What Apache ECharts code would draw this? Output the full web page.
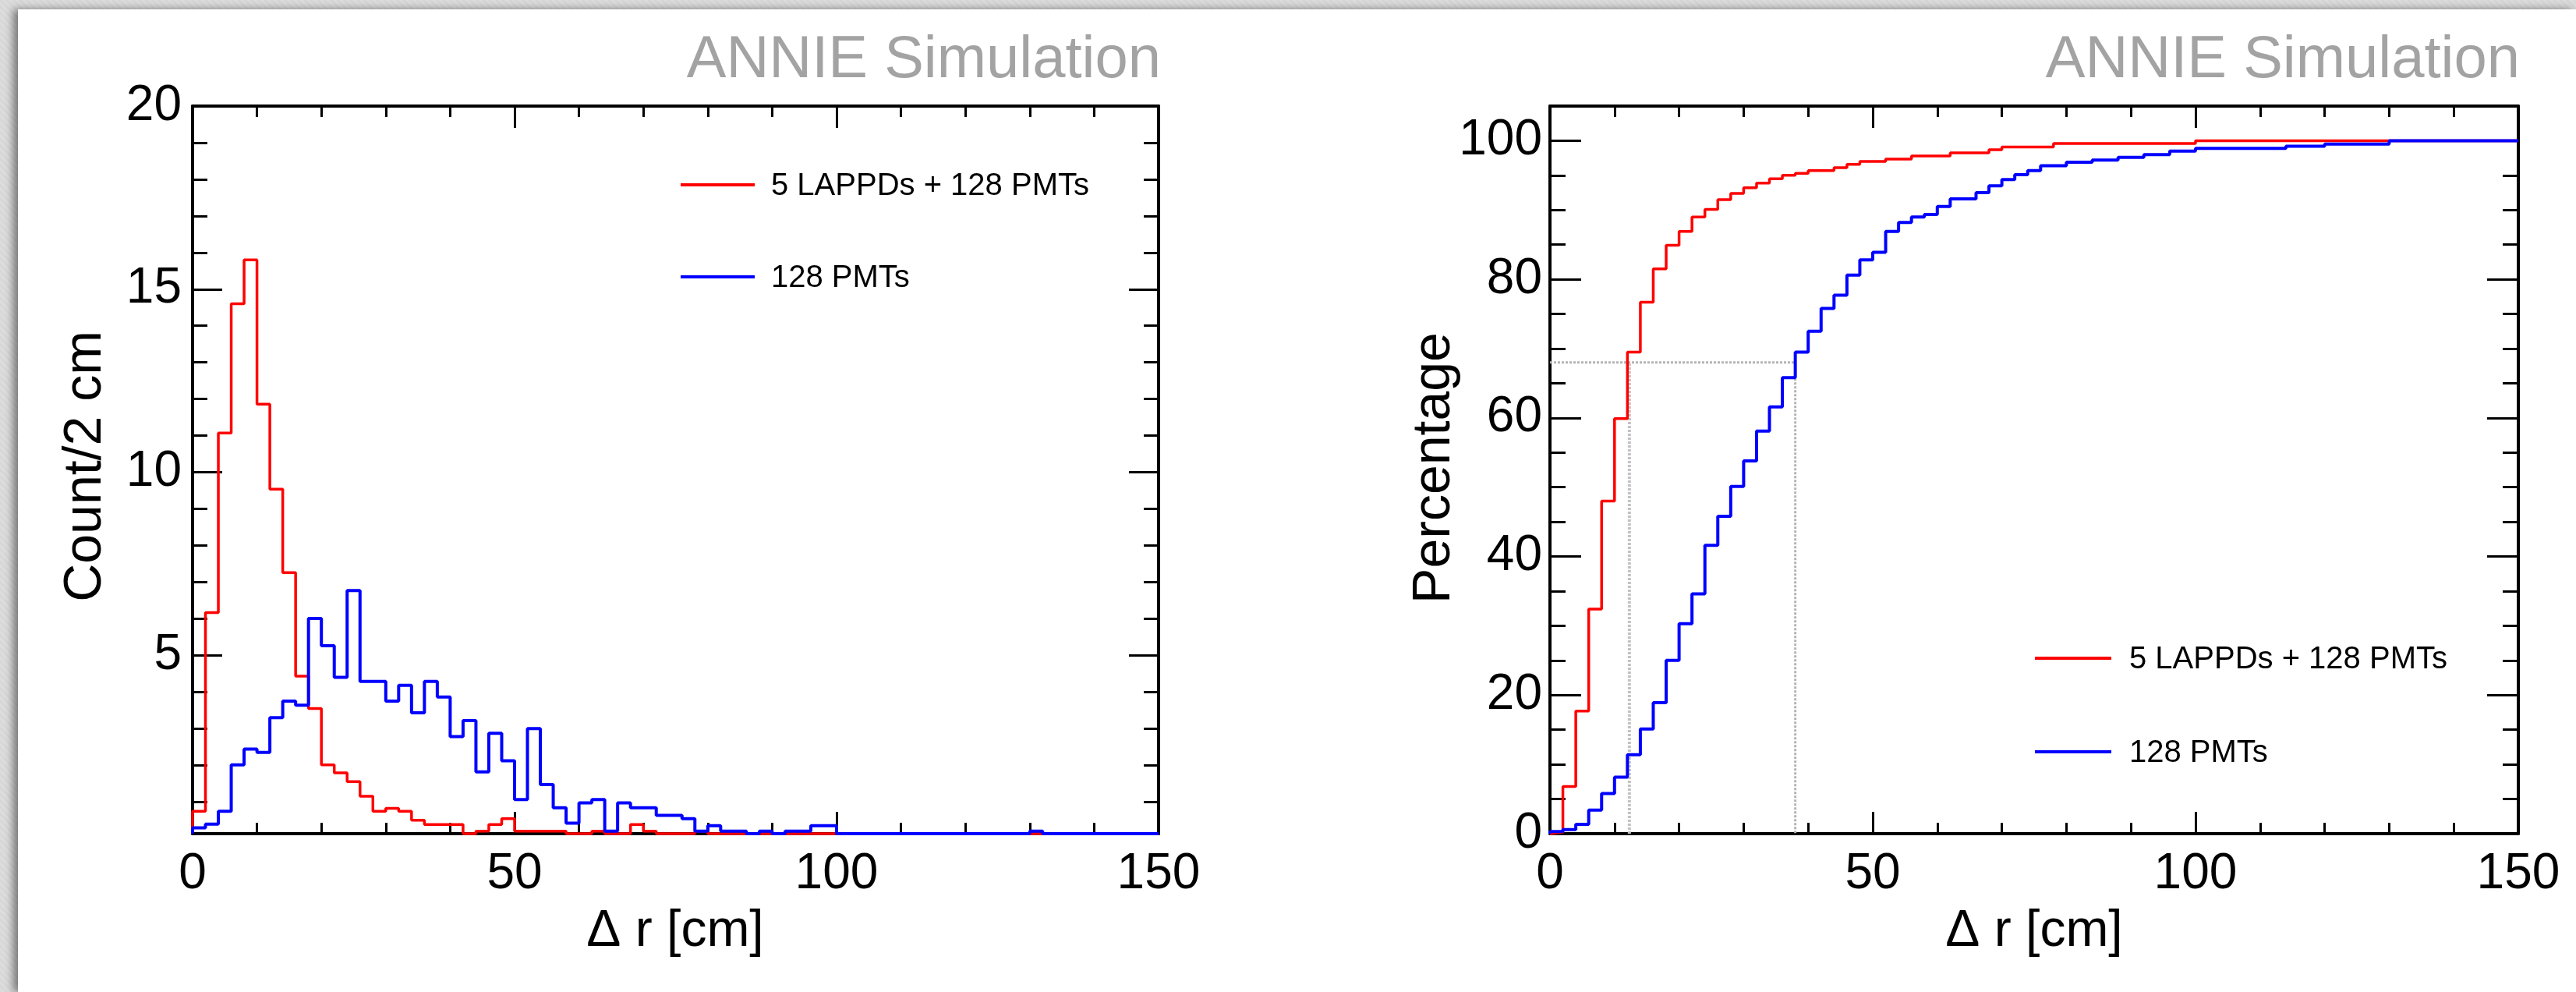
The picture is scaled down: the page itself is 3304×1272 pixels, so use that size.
<!DOCTYPE html>
<html>
<head>
<meta charset="utf-8">
<title>ANNIE Simulation – vertex resolution</title>
<script src="https://cdn.jsdelivr.net/npm/echarts@6/dist/echarts.min.js"></script>
<style>
  html, body { margin: 0; padding: 0; width: 3304px; height: 1272px; overflow: hidden;
    background: repeating-linear-gradient(45deg, #d8d8d8 0px, #dedede 3px, #d4d4d4 6px); }
  #panel { position: absolute; left: 23px; top: 12px; width: 3281px; height: 1260px; background: #ffffff;
    box-shadow: -6px 0 10px rgba(0,0,0,0.45); }
  #chart { position: absolute; left: 0; top: 0; width: 3304px; height: 1272px; }
</style>
</head>
<body>
<div id="panel"></div>
<div id="chart"></div>
<script>
// ---- binning (2 cm bins from 0 to 150 cm) ----
const BIN_WIDTH = 2;
const DR_MIN = 0, DR_MAX = 150;
const drTicks = [0, 50, 100, 150];

// ---- Δr distribution, Count / 2 cm ----
const countLappd = [
  0.74, 6.17, 11.07, 14.6, 15.8, 11.86, 9.54, 7.26, 4.43, 3.55,
  2.01, 1.79, 1.55, 1.15, 0.74, 0.82, 0.74, 0.5, 0.38, 0.38,
  0.38, 0, 0.2, 0.38, 0.54, 0.2, 0.2, 0.2, 0.2, 0,
  0, 0.2, 0, 0, 0.38, 0.2, 0, 0, 0, 0.2,
  0, 0, 0, 0, 0, 0, 0, 0, 0, 0,
  0, 0, 0, 0, 0, 0, 0, 0, 0, 0,
  0, 0, 0, 0, 0, 0, 0, 0, 0, 0,
  0, 0, 0, 0, 0
];
const countPmt = [
  0.29, 0.39, 0.74, 2.01, 2.44, 2.35, 3.30, 3.75, 3.64, 6.01,
  5.26, 4.40, 6.77, 4.29, 4.29, 3.75, 4.18, 3.43, 4.29, 3.86,
  2.78, 3.22, 1.82, 2.87, 2.12, 1.06, 3.0, 1.47, 0.84, 0.42,
  0.97, 1.06, 0.2, 0.97, 0.84, 0.84, 0.63, 0.63, 0.54, 0.2,
  0.35, 0.2, 0.2, 0, 0.2, 0, 0.2, 0.2, 0.35, 0.35,
  0, 0, 0, 0, 0, 0, 0, 0, 0, 0,
  0, 0, 0, 0, 0, 0.2, 0, 0, 0, 0,
  0, 0, 0, 0, 0
];
const countMin = 0.13, countMax = 20;
const countTicks = [5, 10, 15, 20];

// ---- cumulative fraction, Percentage ----
const cumLappd = [
  0.2, 6.8, 17.7, 32.4, 48.0, 59.9, 69.5, 76.7, 81.5, 84.9,
  86.9, 89.0, 90.1, 91.5, 92.4, 93.2, 93.9, 94.5, 95.0, 95.3,
  95.7, 95.7, 96.1, 96.6, 97.0, 97.0, 97.35, 97.35, 97.8, 97.8,
  97.8, 98.24, 98.24, 98.24, 98.7, 99.1, 99.1, 99.1, 99.1, 99.6,
  99.6, 99.6, 99.6, 99.6, 99.6, 99.6, 99.6, 99.6, 99.6, 99.6,
  100, 100, 100, 100, 100, 100, 100, 100, 100, 100,
  100, 100, 100, 100, 100, 100, 100, 100, 100, 100,
  100, 100, 100, 100, 100
];
const cumPmt = [
  0.3, 0.6, 1.35, 3.4, 5.8, 8.17, 11.4, 15.1, 18.9, 25.0,
  30.3, 34.6, 41.6, 45.8, 50.1, 53.8, 58.1, 61.6, 65.8, 69.5,
  72.5, 75.8, 77.7, 80.6, 82.8, 83.9, 86.9, 88.2, 89.0, 89.35,
  90.5, 91.6, 91.6, 92.5, 93.5, 94.4, 95.1, 95.7, 96.4, 96.4,
  96.9, 96.9, 97.2, 97.2, 97.6, 97.6, 98.0, 98.0, 98.5, 98.5,
  98.9, 98.9, 98.9, 98.9, 98.9, 98.9, 98.9, 99.2, 99.2, 99.2,
  99.5, 99.5, 99.5, 99.5, 99.5, 100, 100, 100, 100, 100,
  100, 100, 100, 100, 100
];
const pctMin = 0, pctMax = 105;
const pctTicks = [0, 20, 40, 60, 80, 100];

// 68 % containment markers
const guideLevel = 68;
const guideRadius = [12.3, 38];

const seriesNames = ['5 LAPPDs + 128 PMTs', '128 PMTs'];
const panelTitle = 'ANNIE Simulation';

// ---- helpers ----
const FONT = '"Liberation Sans", Arial, Helvetica, sans-serif';
const RED = '#ff0000', BLUE = '#0000ff';

// outline of a histogram: rise from the floor at the first edge, then one step per bin
function histPath(values, floor) {
  const pts = [[DR_MIN, floor]];
  values.forEach((v, i) => pts.push([DR_MIN + i * BIN_WIDTH, Math.max(v, floor)]));
  pts.push([DR_MIN + values.length * BIN_WIDTH, Math.max(values[values.length - 1], floor)]);
  return pts;
}
function minorBetween(lo, hi, step, majors) {
  const out = [];
  for (let v = lo; v <= hi + 1e-9; v += step) {
    const r = Math.round(v * 1000) / 1000;
    if (!majors.includes(r)) out.push(r);
  }
  return out;
}

const blackLine = { color: '#000', width: 4 };
const tickLine = { color: '#000', width: 3 };

// frame rectangles of the two pads
const padRects = [
  { left: 247, top: 136, width: 1239, height: 933 },
  { left: 1988, top: 136, width: 1242, height: 933 }
];

function xAxisPair(grid) {
  const base = {
    type: 'value', gridIndex: grid, min: DR_MIN, max: DR_MAX, interval: 50,
    splitLine: { show: false }, minorSplitLine: { show: false },
    axisLine: { show: true, onZero: false, lineStyle: blackLine },
    axisTick: { show: true, inside: true, length: 28, lineStyle: tickLine },
    minorTick: { show: true, splitNumber: 5, length: 14, lineStyle: tickLine }
  };
  return [
    Object.assign({}, base, { position: 'bottom',
      axisLabel: { show: true, margin: 20, fontSize: 64, color: '#000', fontFamily: FONT,
        customValues: drTicks } }),
    Object.assign({}, base, { position: 'top', axisLabel: { show: false } })
  ];
}
// hidden x axis for the overlay grids that only carry minor y ticks
function hiddenX(grid) {
  return { type: 'value', gridIndex: grid, min: DR_MIN, max: DR_MAX, show: false };
}
function yMajorPair(grid, min, max, majors, len, labelMargin) {
  const common = { type: 'value', gridIndex: grid, min: min, max: max, splitLine: { show: false },
    axisLine: { show: true, onZero: false, lineStyle: blackLine },
    axisTick: { show: true, inside: true, length: len, lineStyle: tickLine, customValues: majors } };
  return [
    Object.assign({}, common, { position: 'left',
      axisLabel: { show: true, margin: labelMargin, fontSize: 64, color: '#000', fontFamily: FONT, customValues: majors } }),
    Object.assign({}, common, { position: 'right', axisLabel: { show: false } })
  ];
}
function yMinorPair(grid, min, max, minors, len) {
  const common = { type: 'value', gridIndex: grid, min: min, max: max, splitLine: { show: false },
    axisLine: { show: false }, axisLabel: { show: false },
    axisTick: { show: true, inside: true, length: len, lineStyle: tickLine, customValues: minors } };
  return [
    Object.assign({}, common, { position: 'left' }),
    Object.assign({}, common, { position: 'right' })
  ];
}

const countMinor = minorBetween(1, 19, 1, countTicks);
const pctMinor = minorBetween(5, 100, 5, pctTicks);

const chart = echarts.init(document.getElementById('chart'), null, { renderer: 'canvas' });

const stepLine = (name, xi, yi, data, color, width, z) => ({
  name: name, type: 'line', xAxisIndex: xi, yAxisIndex: yi, data: data,
  step: 'end', symbol: 'none', clip: false, z: z,
  lineStyle: { color: color, width: width }, itemStyle: { color: color }
});

const option = {
  animation: false,
  backgroundColor: 'transparent',
  grid: [
    Object.assign({ containLabel: false }, padRects[0]),
    Object.assign({ containLabel: false }, padRects[1]),
    Object.assign({ containLabel: false }, padRects[0]),
    Object.assign({ containLabel: false }, padRects[1])
  ],
  xAxis: [].concat(xAxisPair(0), xAxisPair(1), [hiddenX(2), hiddenX(3)]),
  yAxis: [].concat(
    yMajorPair(0, countMin, countMax, countTicks, 38, 14),
    yMajorPair(1, pctMin, pctMax, pctTicks, 40, 10),
    yMinorPair(2, countMin, countMax, countMinor, 19),
    yMinorPair(3, pctMin, pctMax, pctMinor, 20)
  ),
  series: [
    stepLine(seriesNames[0], 0, 0, histPath(countLappd, countMin), RED, 3.5, 3),
    stepLine(seriesNames[1], 0, 0, histPath(countPmt, countMin), BLUE, 4, 4),
    {
      type: 'line', xAxisIndex: 2, yAxisIndex: 2, symbol: 'none', clip: true, z: 2,
      data: [[DR_MIN, guideLevel], [guideRadius[1], guideLevel], [guideRadius[1], pctMin]],
      lineStyle: { color: '#b4b4b4', width: 3, type: [3, 2] }
    },
    {
      type: 'line', xAxisIndex: 2, yAxisIndex: 2, symbol: 'none', clip: true, z: 2,
      data: [[guideRadius[0], pctMin], [guideRadius[0], guideLevel]],
      lineStyle: { color: '#c2c2c2', width: 4, type: [3, 2] }
    },
    stepLine(seriesNames[0], 2, 2, histPath(cumLappd, pctMin), RED, 3.5, 3),
    stepLine(seriesNames[1], 2, 2, histPath(cumPmt, pctMin), BLUE, 4, 4)
  ],
  graphic: [
    // pad titles
    { type: 'text', x: 1489, y: 78, z: 10,
      style: { text: panelTitle, fill: '#a3a3a3', font: '76px ' + FONT, align: 'right', verticalAlign: 'middle' } },
    { type: 'text', x: 3232, y: 78, z: 10,
      style: { text: panelTitle, fill: '#a3a3a3', font: '76px ' + FONT, align: 'right', verticalAlign: 'middle' } },
    // axis titles
    { type: 'text', x: 866, y: 1195, z: 10,
      style: { text: 'Δ r [cm]', fill: '#000', font: '66px ' + FONT, align: 'center', verticalAlign: 'middle' } },
    { type: 'text', x: 2609, y: 1195, z: 10,
      style: { text: 'Δ r [cm]', fill: '#000', font: '66px ' + FONT, align: 'center', verticalAlign: 'middle' } },
    { type: 'text', x: 110, y: 598, rotation: Math.PI / 2, z: 10,
      style: { text: 'Count/2 cm', fill: '#000', font: '68px ' + FONT, align: 'center', verticalAlign: 'middle' } },
    { type: 'text', x: 1840, y: 600, rotation: Math.PI / 2, z: 10,
      style: { text: 'Percentage', fill: '#000', font: '68px ' + FONT, align: 'center', verticalAlign: 'middle' } },
    // legend, left pad
    { type: 'line', z: 10, shape: { x1: 873, y1: 237, x2: 968, y2: 237 }, style: { stroke: RED, lineWidth: 4 } },
    { type: 'text', x: 989, y: 239, z: 10,
      style: { text: seriesNames[0], fill: '#000', font: '40px ' + FONT, align: 'left', verticalAlign: 'middle' } },
    { type: 'line', z: 10, shape: { x1: 873, y1: 355, x2: 968, y2: 355 }, style: { stroke: BLUE, lineWidth: 4 } },
    { type: 'text', x: 989, y: 357, z: 10,
      style: { text: seriesNames[1], fill: '#000', font: '40px ' + FONT, align: 'left', verticalAlign: 'middle' } },
    // legend, right pad
    { type: 'line', z: 10, shape: { x1: 2610, y1: 844, x2: 2708, y2: 844 }, style: { stroke: RED, lineWidth: 4 } },
    { type: 'text', x: 2731, y: 846, z: 10,
      style: { text: seriesNames[0], fill: '#000', font: '40px ' + FONT, align: 'left', verticalAlign: 'middle' } },
    { type: 'line', z: 10, shape: { x1: 2610, y1: 964, x2: 2708, y2: 964 }, style: { stroke: BLUE, lineWidth: 4 } },
    { type: 'text', x: 2731, y: 966, z: 10,
      style: { text: seriesNames[1], fill: '#000', font: '40px ' + FONT, align: 'left', verticalAlign: 'middle' } }
  ]
};
chart.setOption(option);
</script>
</body>
</html>
